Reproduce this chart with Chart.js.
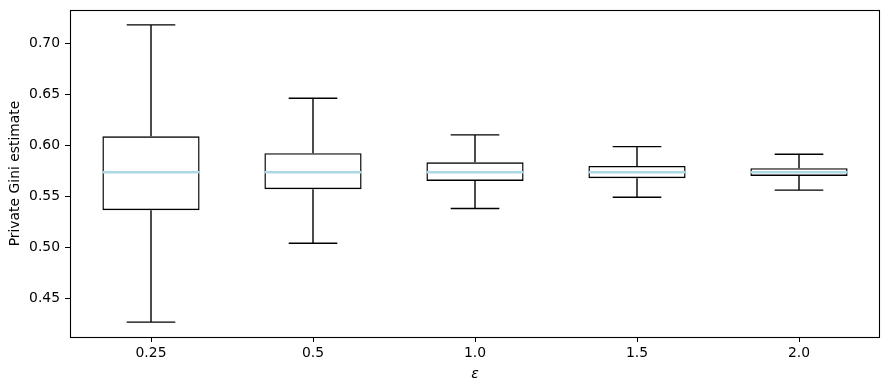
<!DOCTYPE html>
<html>
  <head>
    <title>Private Gini estimate box plot</title>
    <style>
      body {
        margin: 0;
        background: #fff;
      }
      canvas {
        display: block;
      }
    </style>
  </head>
  <body>
    <canvas id="box-chart" width="889" height="390"></canvas>

    <script src="https://cdn.jsdelivr.net/npm/chart.js"></script>
    <script>
      // Data
      var categories = ["0.25", "0.5", "1.0", "1.5", "2.0"]
      var whiskerLow = [0.4265, 0.5039, 0.5379, 0.549, 0.5559]
      var q1 = [0.5363, 0.5569, 0.565, 0.5676, 0.5699]
      var median = [0.5735, 0.5735, 0.5735, 0.5735, 0.5735]
      var q3 = [0.6088, 0.5922, 0.5833, 0.5797, 0.5775]
      var whiskerHigh = [0.718, 0.6461, 0.6101, 0.5986, 0.5912]
      var yTicks = [0.45, 0.5, 0.55, 0.6, 0.65, 0.7]

      var font = { family: "'DejaVu Sans', sans-serif", size: 13.9 }

      // whiskers, caps and medians on top of the box bars
      var boxPlugin = {
        id: "boxParts",
        afterDatasetsDraw: function (chart) {
          var ctx = chart.ctx
          var x = chart.scales.x
          var y = chart.scales.y
          var bars = chart.getDatasetMeta(0).data
          ctx.save()
          categories.forEach(function (c, i) {
            var cx = x.getPixelForValue(i)
            var w = bars[i].width
            var cap = w / 4
            ctx.strokeStyle = "#000"
            ctx.lineWidth = 1.4
            ctx.beginPath()
            ctx.moveTo(cx, y.getPixelForValue(q3[i]))
            ctx.lineTo(cx, y.getPixelForValue(whiskerHigh[i]))
            ctx.moveTo(cx, y.getPixelForValue(q1[i]))
            ctx.lineTo(cx, y.getPixelForValue(whiskerLow[i]))
            ctx.moveTo(cx - cap, y.getPixelForValue(whiskerHigh[i]))
            ctx.lineTo(cx + cap, y.getPixelForValue(whiskerHigh[i]))
            ctx.moveTo(cx - cap, y.getPixelForValue(whiskerLow[i]))
            ctx.lineTo(cx + cap, y.getPixelForValue(whiskerLow[i]))
            ctx.stroke()

            ctx.strokeStyle = "#add8e6"
            ctx.lineWidth = 2.4
            ctx.beginPath()
            ctx.moveTo(cx - w / 2, y.getPixelForValue(median[i]))
            ctx.lineTo(cx + w / 2, y.getPixelForValue(median[i]))
            ctx.stroke()
          })
          // frame
          var a = chart.chartArea
          ctx.strokeStyle = "#000"
          ctx.lineWidth = 1.1
          ctx.strokeRect(a.left + 0.5, a.top + 0.5, a.right - a.left - 1, a.bottom - a.top)
          ctx.restore()
        },
      }

      var config = {
        type: "bar",
        data: {
          labels: categories,
          datasets: [
            {
              data: categories.map(function (c, i) {
                return [q1[i], q3[i]]
              }),
              backgroundColor: "rgba(0,0,0,0)",
              borderColor: "#000",
              borderWidth: 1.4,
              borderSkipped: false,
              barPercentage: 0.6,
              categoryPercentage: 1,
            },
          ],
        },
        options: {
          responsive: false,
          animation: false,
          layout: { padding: { top: 10, right: 9, left: 0, bottom: 0 } },
          plugins: {
            legend: { display: false },
            tooltip: { enabled: false },
          },
          scales: {
            x: {
              afterFit: function (scale) {
                scale.height = 53
                scale.paddingLeft = 0
                scale.paddingRight = 0
              },
              grid: {
                display: true,
                offset: false,
                drawOnChartArea: false,
                drawTicks: true,
                tickLength: 5,
                color: "#000",
              },
              border: { display: false },
              ticks: { color: "#000", font: font, padding: 3 },
              title: {
                display: true,
                text: "ε",
                color: "#000",
                font: { family: font.family, size: 13.9, style: "italic" },
                padding: { top: 0, bottom: 7 },
              },
            },
            y: {
              min: 0.4119,
              max: 0.7326,
              afterFit: function (scale) {
                scale.width = 70
                scale.paddingTop = 0
                scale.paddingBottom = 0
              },
              afterBuildTicks: function (scale) {
                scale.ticks = yTicks.map(function (v) {
                  return { value: v }
                })
              },
              grid: {
                display: true,
                drawOnChartArea: false,
                drawTicks: true,
                tickLength: 5,
                color: "#000",
              },
              border: { display: false },
              ticks: {
                color: "#000",
                font: font,
                padding: 5,
                callback: function (v) {
                  return Number(v).toFixed(2)
                },
              },
              title: {
                display: true,
                text: "Private Gini estimate",
                color: "#000",
                font: font,
                padding: { top: 7, bottom: 0 },
              },
            },
          },
        },
        plugins: [boxPlugin],
      }

      var ctx = document.getElementById("box-chart").getContext("2d")
      new Chart(ctx, config)
    </script>
  </body>
</html>
